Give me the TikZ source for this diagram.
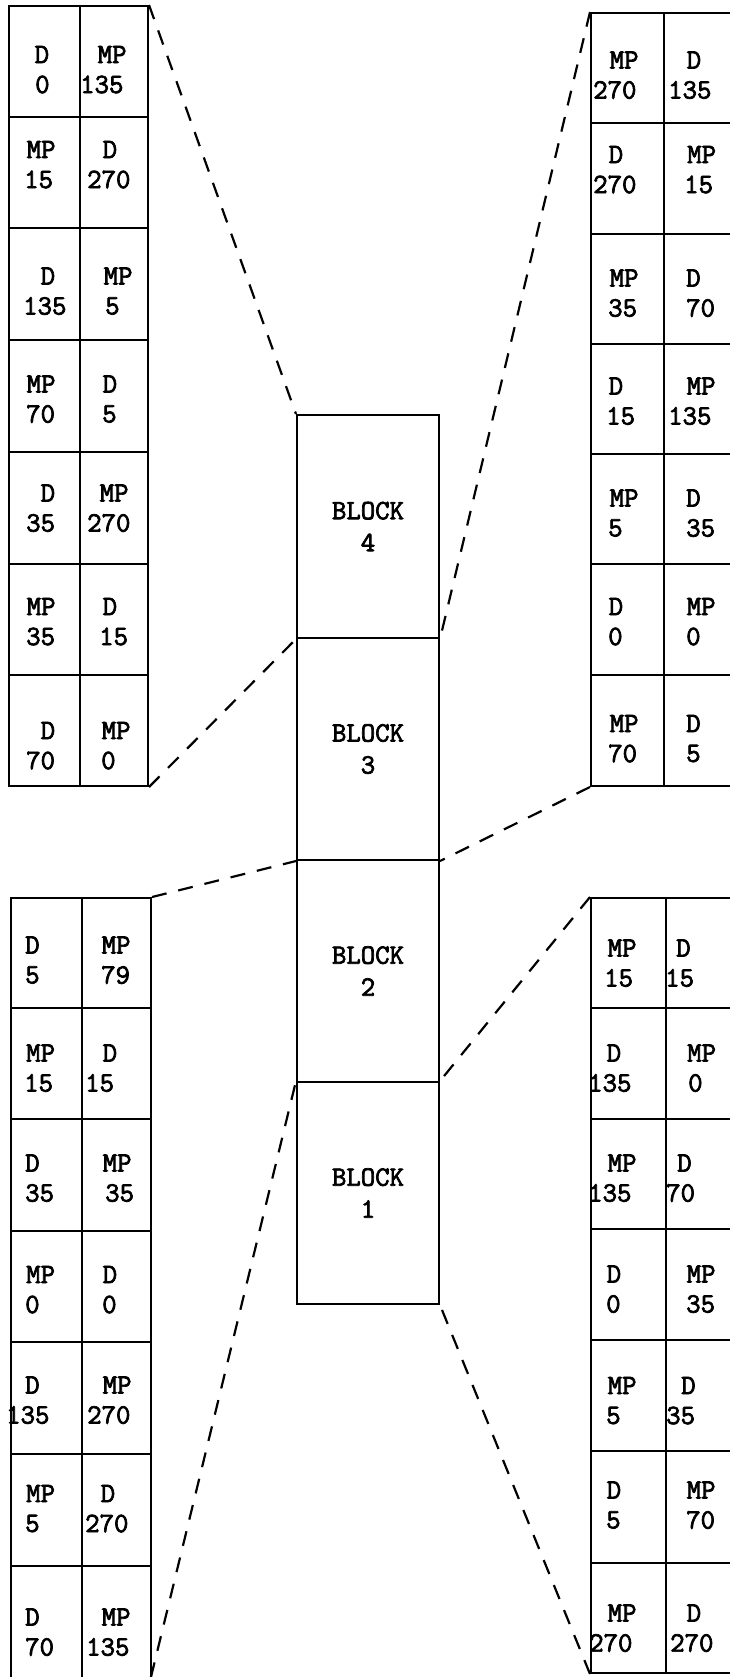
\documentclass[tikz,border=0pt]{standalone}
\usepackage{fontspec}
\newfontfamily\typewriter{Latin Modern Mono}[FakeBold=2.6]
\usetikzlibrary{fit}
\tikzset{
  cell/.style={draw, line width=2pt, inner sep=0pt},
  txt/.style={anchor=west, inner sep=0pt, font=\typewriter\fontsize{28}{30}\selectfont},
  blockbox/.style={draw, line width=2pt, inner sep=0pt, align=center,
    font=\typewriter\fontsize{28}{32}\selectfont},
  link/.style={line width=2.2pt, dash pattern=on 15pt off 12pt},
}
% one rectangular cell of a table, given by two opposite corners
\newcommand\gridcell[5]{\node[cell, fit={(#2,#3) (#4,#5)}] (#1) {};}
% two-line entry of a cell: name, vertical centre, x of line 1, line 1, x of line 2, line 2
\newcommand\entry[6]{%
  \node[txt] (#1a) at (#3,#2-15) {#4};
  \node[txt] (#1b) at (#5,#2+15) {#6};}

\begin{document}
\begin{tikzpicture}[x=1pt,y=-1pt]
\useasboundingbox (0,0) rectangle (730,1677);
\clip (0,0) rectangle (730,1677);

% ---- tables ----
\foreach \r/\ya/\yb in {1/6/117,2/117/228,3/228/340,4/340/452,5/452/564,6/564/675,7/675/786}{
  \gridcell{tl\r l}{9}{\ya}{80}{\yb}\gridcell{tl\r r}{80}{\ya}{148}{\yb}}
\foreach \r/\ya/\yb in {1/13/123,2/123/234,3/234/344,4/344/454,5/454/564,6/564/675,7/675/786}{
  \gridcell{tr\r l}{591}{\ya}{664}{\yb}\gridcell{tr\r r}{664}{\ya}{760}{\yb}}
\foreach \r/\ya/\yb in {1/898/1008,2/1008/1119,3/1119/1231,4/1231/1342,5/1342/1454,6/1454/1566,7/1566/1700}{
  \gridcell{bl\r l}{11}{\ya}{82}{\yb}\gridcell{bl\r r}{82}{\ya}{151}{\yb}}
\foreach \r/\ya/\yb in {1/898/1008,2/1008/1119,3/1119/1229,4/1229/1340,5/1340/1451,6/1451/1563,7/1563/1673}{
  \gridcell{br\r l}{591}{\ya}{666}{\yb}\gridcell{br\r r}{666}{\ya}{760}{\yb}}

% ---- entries ----
\entry{tl1l}{69.5}{34.5}{D}{35}{0}
\entry{tl1r}{69.5}{97.5}{MP}{80}{135}
\entry{tl2l}{164.5}{26.5}{MP}{24}{15}
\entry{tl2r}{164.5}{102.5}{D}{87}{270}
\entry{tl3l}{291}{40.5}{D}{23}{135}
\entry{tl3r}{291}{103.5}{MP}{105}{5}
\entry{tl4l}{399}{26.5}{MP}{26}{70}
\entry{tl4r}{399}{102.5}{D}{102}{5}
\entry{tl5l}{508}{40.5}{D}{26}{35}
\entry{tl5r}{508}{99.5}{MP}{87}{270}
\entry{tl6l}{621.5}{26.5}{MP}{26}{35}
\entry{tl6r}{621.5}{102.5}{D}{99}{15}
\entry{tl7l}{745.5}{40.5}{D}{26}{70}
\entry{tl7r}{745.5}{101.5}{MP}{101}{0}

\entry{tr1l}{75}{609.5}{MP}{593}{270}
\entry{tr1r}{75}{686.5}{D}{668}{135}
\entry{tr2l}{169.5}{608.5}{D}{593}{270}
\entry{tr2r}{169.5}{687}{MP}{684}{15}
\entry{tr3l}{293}{609.5}{MP}{608}{35}
\entry{tr3r}{293}{686}{D}{686}{70}
\entry{tr4l}{401}{608.5}{D}{606}{15}
\entry{tr4r}{401}{686.5}{MP}{668}{135}
\entry{tr5l}{513}{609.5}{MP}{608}{5}
\entry{tr5r}{513}{686}{D}{686}{35}
\entry{tr6l}{621.5}{608.5}{D}{608}{0}
\entry{tr6r}{621.5}{686.5}{MP}{686}{0}
\entry{tr7l}{738.5}{609.5}{MP}{608}{70}
\entry{tr7r}{738.5}{686}{D}{686}{5}

\entry{bl1l}{960}{25}{D}{25}{5}
\entry{bl1r}{960}{101.5}{MP}{101}{79}
\entry{bl2l}{1068}{26}{MP}{24}{15}
\entry{bl2r}{1068}{102.5}{D}{85}{15}
\entry{bl3l}{1178}{25}{D}{25}{35}
\entry{bl3r}{1178}{102.5}{MP}{105}{35}
\entry{bl4l}{1289.5}{26}{MP}{25}{0}
\entry{bl4r}{1289.5}{102.5}{D}{102}{0}
\entry{bl5l}{1400}{25}{D}{6}{135}
\entry{bl5r}{1400}{102.5}{MP}{87}{270}
\entry{bl6l}{1508.5}{26}{MP}{25}{5}
\entry{bl6r}{1508.5}{100.5}{D}{85}{270}
\entry{bl7l}{1632}{25}{D}{25}{70}
\entry{bl7r}{1632}{101.5}{MP}{86}{135}

\entry{br1l}{963}{607.5}{MP}{604}{15}
\entry{br1r}{963}{676}{D}{665}{15}
\entry{br2l}{1068}{606.5}{D}{588}{135}
\entry{br2r}{1068}{687}{MP}{688}{0}
\entry{br3l}{1178}{607.5}{MP}{588}{135}
\entry{br3r}{1178}{677}{D}{666}{70}
\entry{br4l}{1289}{606.5}{D}{606}{0}
\entry{br4r}{1289}{686.5}{MP}{686}{35}
\entry{br5l}{1400.5}{607.5}{MP}{606}{5}
\entry{br5r}{1400.5}{681}{D}{666}{35}
\entry{br6l}{1505}{606.5}{D}{606}{5}
\entry{br6r}{1505}{686.5}{MP}{686}{70}
\entry{br7l}{1628}{607.5}{MP}{589}{270}
\entry{br7r}{1628}{686.5}{D}{670}{270}

% ---- central column of blocks ----
\node[blockbox, minimum width=142pt, minimum height=223pt] (b4) at (368,526.5) {BLOCK\\4};
\node[blockbox, minimum width=142pt, minimum height=222pt] (b3) at (368,749) {BLOCK\\3};
\node[blockbox, minimum width=142pt, minimum height=222pt] (b2) at (368,971) {BLOCK\\2};
\node[blockbox, minimum width=142pt, minimum height=222pt] (b1) at (368,1193) {BLOCK\\1};

% ---- dashed leaders from each block to its table ----
\coordinate (blend) at (151,1677);
\draw[link] (tl1r.north east) -- (b4.north west);
\draw[link] (tl7r.south east) -- (b4.south west);
\draw[link] (tr1l.north west) -- (b4.south east);
\draw[link] (tr7l.south west) -- (b3.south east);
\draw[link] (bl1r.north east) -- (b3.south west);
\draw[link] (blend) -- (b1.north west);
\draw[link] (br1l.north west) -- (b1.north east);
\draw[link] (br7l.south west) -- (b1.south east);
\end{tikzpicture}
\end{document}
